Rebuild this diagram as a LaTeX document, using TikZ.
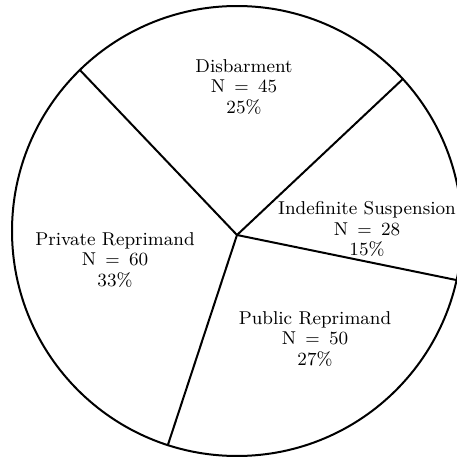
\documentclass[tikz,border=0pt]{standalone}
\usepackage{tikz}
\usetikzlibrary{calc}

\begin{document}
\begin{tikzpicture}[x=0.5pt, y=0.5pt, line width=1pt,
    lbl/.style={align=center, inner sep=0pt, font=\fontsize{9.3}{10.3}\selectfont}]
    \useasboundingbox (0,0) rectangle (457,457);
    \clip (0,0) rectangle (457,457);
    \coordinate (c) at (237,226);
    \coordinate (o) at (237,222);
    \draw (c) circle (225);
    % spokes, one per boundary between slices
    \draw (o) -- ($(c)+(134.3:225)$);
    \draw (o) -- ($(c)+(42.5:225)$);
    \draw (o) -- ($(c)+(-12.6:225)$);
    \draw (o) -- ($(c)+(252.1:225)$);
    \node[lbl] (dis) at (244,370) {Disbarment\\N\enspace$=$\enspace45\\25\%};
    \node[lbl] (ind) at (367,228) {Indefinite Suspension\\N\enspace$=$\enspace28\\15\%};
    \node[lbl] (pri) at (115,197) {Private Reprimand\\N\enspace$=$\enspace60\\33\%};
    \node[lbl] (pub) at (315,118) {Public Reprimand\\N\enspace$=$\enspace50\\27\%};
  \end{tikzpicture}
\end{document}
